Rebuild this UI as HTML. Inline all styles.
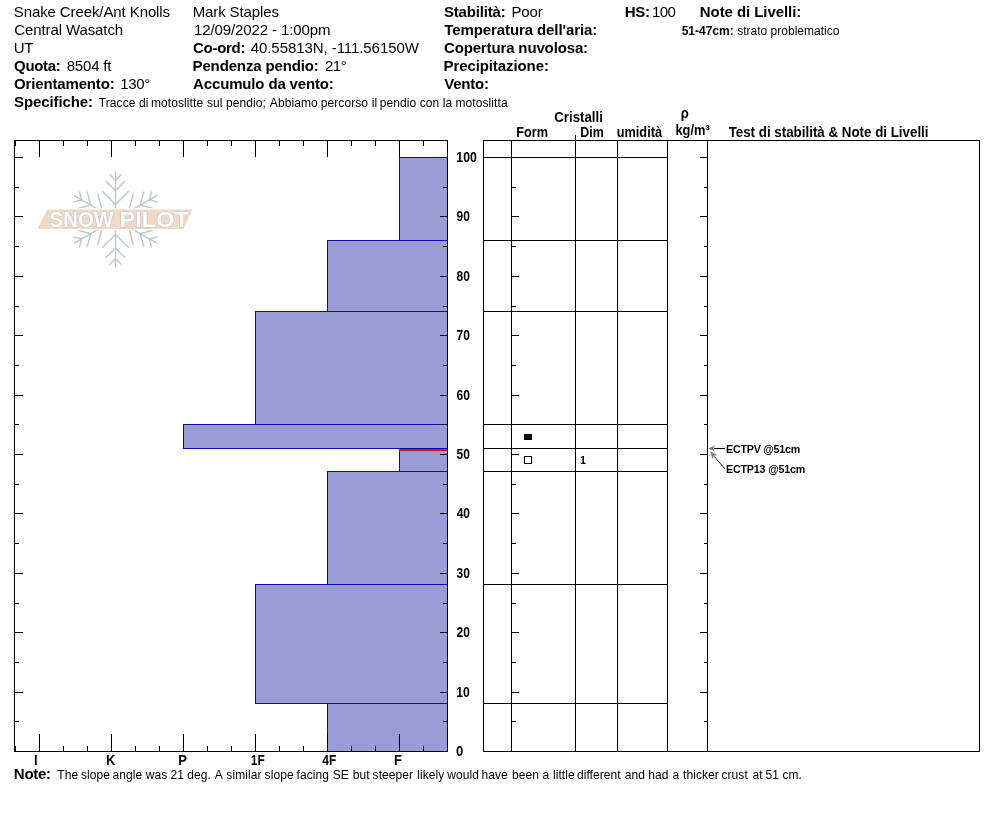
<!DOCTYPE html>
<html lang="it"><head><meta charset="utf-8"><title>Snow Pilot - Snake Creek/Ant Knolls</title>
<style>html,body{margin:0;padding:0;background:#fff}body{width:994px;height:840px;overflow:hidden}svg{display:block}text{font-family:"Liberation Sans",Arial,Helvetica,sans-serif;fill:#000}.b{font-weight:bold}.f11{font-size:15px}.f10{font-size:15px}.f9{font-size:12px}.f8{font-size:10.67px}.ln{stroke:#000;stroke-width:1;shape-rendering:crispEdges;fill:none}</style></head><body>
<div style="will-change:transform;width:994px;height:840px">
<svg width="994" height="840" viewBox="0 0 994 840">
<rect width="994" height="840" fill="#fff"/>
<text y="106.5" class="f9" style="letter-spacing:0.08px;white-space:pre"><tspan x="98.77">Tracce di </tspan><tspan x="151.04">motoslitte </tspan><tspan x="206.97">sul </tspan><tspan x="226.06">pendio; </tspan><tspan x="269.82">Abbiamo </tspan><tspan x="320.76">percorso </tspan><tspan x="371.8">il </tspan><tspan x="379.86">pendio </tspan><tspan x="419.74">con </tspan><tspan x="442.87">la </tspan><tspan x="455.54">motoslitta</tspan></text>
<text y="778.5" class="f9" style="letter-spacing:0.08px;white-space:pre"><tspan x="57.37">The </tspan><tspan x="80.97">slope </tspan><tspan x="112.58">angle </tspan><tspan x="145.8">was </tspan><tspan x="170.55">21 </tspan><tspan x="187.22">deg. </tspan><tspan x="214.72">A </tspan><tspan x="226.37">similar </tspan><tspan x="264.57">slope </tspan><tspan x="296.5">facing </tspan><tspan x="332.64">SE </tspan><tspan x="352.66">but </tspan><tspan x="372.57">steeper </tspan><tspan x="417.17">likely </tspan><tspan x="447.3">would </tspan><tspan x="481.43">have </tspan><tspan x="511.96">been </tspan><tspan x="542.38">a </tspan><tspan x="552.97">little </tspan><tspan x="576.92">different </tspan><tspan x="624.68">and </tspan><tspan x="648.33">had </tspan><tspan x="672.38">a </tspan><tspan x="683.0">thicker </tspan><tspan x="721.44">crust </tspan><tspan x="752.58">at </tspan><tspan x="765.5">51 </tspan><tspan x="782.44">cm.</tspan></text>
<text x="13.74" y="16.5" class="f11" style="letter-spacing:-0.098px">Snake Creek/Ant Knolls</text>
<text x="14.25" y="34.5" class="f11" style="letter-spacing:-0.103px">Central Wasatch</text>
<text x="13.84" y="52.5" class="f11" style="letter-spacing:-0.5px">UT</text>
<text x="14.04" y="70.5" class="f11 b" style="letter-spacing:-0.303px">Quota:</text>
<text x="66.71" y="70.5" class="f11" style="letter-spacing:-0.181px">8504 ft</text>
<text x="14.04" y="88.5" class="f11 b" style="letter-spacing:-0.154px">Orientamento:</text>
<text x="120.2" y="88.5" class="f11" style="letter-spacing:-0.3px">130°</text>
<text x="14.05" y="106.5" class="f11 b" style="letter-spacing:-0.106px">Specifiche:</text>
<text x="192.71" y="16.5" class="f11" style="letter-spacing:-0.122px">Mark Staples</text>
<text x="193.98" y="34.5" class="f11" style="letter-spacing:-0.11px">12/09/2022 - 1:00pm</text>
<text x="193.04" y="52.5" class="f11 b" style="letter-spacing:-0.296px">Co-ord:</text>
<text x="250.71" y="52.5" class="f11" style="letter-spacing:-0.067px">40.55813N, -111.56150W</text>
<text x="192.57" y="70.5" class="f11 b" style="letter-spacing:-0.144px">Pendenza pendio:</text>
<text x="324.96" y="70.5" class="f11" style="letter-spacing:-0.497px">21°</text>
<text x="193.1" y="88.5" class="f11 b" style="letter-spacing:-0.155px">Accumulo da vento:</text>
<text x="443.95" y="16.5" class="f11 b" style="letter-spacing:-0.17px">Stabilità:</text>
<text x="511.4" y="16.5" class="f11" style="letter-spacing:-0.148px">Poor</text>
<text x="444.35" y="34.5" class="f11 b" style="letter-spacing:-0.103px">Temperatura dell'aria:</text>
<text x="443.94" y="52.5" class="f11 b" style="letter-spacing:-0.141px">Copertura nuvolosa:</text>
<text x="443.47" y="70.5" class="f11 b" style="letter-spacing:-0.091px">Precipitazione:</text>
<text x="444.24" y="88.5" class="f11 b" style="letter-spacing:-0.208px">Vento:</text>
<text x="624.77" y="16.5" class="f11 b" style="letter-spacing:-0.286px">HS:</text>
<text x="652.0" y="16.5" class="f11" style="letter-spacing:-0.6px">100</text>
<text x="699.77" y="16.5" class="f11 b" style="letter-spacing:-0.065px">Note di Livelli:</text>
<text x="681.65" y="34.6" class="f9 b" style="letter-spacing:-0.007px">51-47cm:</text>
<text x="737.17" y="34.6" class="f9" style="letter-spacing:0.014px">strato problematico</text>
<text x="725.99" y="453" class="f8 b" style="letter-spacing:-0.187px">ECTPV @51cm</text>
<text x="725.99" y="473" class="f8 b" style="letter-spacing:-0.15px">ECTP13 @51cm</text>
<text x="580.02" y="463.8" class="f8 b">1</text>
<text x="13.87" y="778.5" class="f11 b" style="letter-spacing:-0.302px">Note:</text>
<text x="554.27" y="121.7" class="f10 b" textLength="48.58" lengthAdjust="spacingAndGlyphs">Cristalli</text>
<text x="516.3" y="137" class="f10 b" textLength="31.71" lengthAdjust="spacingAndGlyphs">Form</text>
<text x="580.32" y="137" class="f10 b" textLength="23.44" lengthAdjust="spacingAndGlyphs">Dim</text>
<text x="616.74" y="137" class="f10 b" textLength="45.27" lengthAdjust="spacingAndGlyphs">umidità</text>
<text x="680.65" y="118" class="f10 b" textLength="8.07" lengthAdjust="spacingAndGlyphs">ρ</text>
<text x="675.46" y="134.6" class="f10 b" textLength="34.22" lengthAdjust="spacingAndGlyphs">kg/m³</text>
<text x="728.63" y="137" class="f10 b" textLength="199.9" lengthAdjust="spacingAndGlyphs">Test di stabilità &amp; Note di Livelli</text>
<text x="34.03" y="764.5" class="f10 b" textLength="3.63" lengthAdjust="spacingAndGlyphs">I</text>
<text x="105.94" y="764.5" class="f10 b" textLength="9.43" lengthAdjust="spacingAndGlyphs">K</text>
<text x="178.31" y="764.5" class="f10 b" textLength="8.71" lengthAdjust="spacingAndGlyphs">P</text>
<text x="250.72" y="764.5" class="f10 b" textLength="14.01" lengthAdjust="spacingAndGlyphs">1F</text>
<text x="322.34" y="764.5" class="f10 b" textLength="14.01" lengthAdjust="spacingAndGlyphs">4F</text>
<text x="394.04" y="764.5" class="f10 b" textLength="7.98" lengthAdjust="spacingAndGlyphs">F</text>
<text x="456.05" y="756" class="f10 b" textLength="7.26" lengthAdjust="spacingAndGlyphs">0</text>
<text x="456.37" y="697" class="f10 b" textLength="13.5" lengthAdjust="spacingAndGlyphs">10</text>
<text x="456.57" y="637" class="f10 b" textLength="13.35" lengthAdjust="spacingAndGlyphs">20</text>
<text x="456.55" y="578" class="f10 b" textLength="13.35" lengthAdjust="spacingAndGlyphs">30</text>
<text x="456.67" y="518" class="f10 b" textLength="13.35" lengthAdjust="spacingAndGlyphs">40</text>
<text x="456.51" y="459" class="f10 b" textLength="13.36" lengthAdjust="spacingAndGlyphs">50</text>
<text x="456.55" y="400" class="f10 b" textLength="13.35" lengthAdjust="spacingAndGlyphs">60</text>
<text x="456.52" y="340" class="f10 b" textLength="13.35" lengthAdjust="spacingAndGlyphs">70</text>
<text x="456.57" y="281" class="f10 b" textLength="13.35" lengthAdjust="spacingAndGlyphs">80</text>
<text x="456.55" y="221" class="f10 b" textLength="13.35" lengthAdjust="spacingAndGlyphs">90</text>
<text x="456.37" y="162" class="f10 b" textLength="20.49" lengthAdjust="spacingAndGlyphs">100</text>
<g stroke="#bcc9d1" stroke-width="1.45" stroke-linecap="round" fill="none"><path d="M115.5 219.4L115.5 171.8"/><path d="M115.5 180.3L121.2 174.6"/><path d="M115.5 180.3L109.8 174.6"/><path d="M115.5 190.8L124.8 181.5"/><path d="M115.5 190.8L106.2 181.5"/><path d="M115.5 204.4L128.4 191.5"/><path d="M115.5 204.4L102.6 191.5"/><path d="M115.5 219.4L74.3 195.6"/><path d="M81.6 199.9L79.5 192.0"/><path d="M81.6 199.9L73.8 201.9"/><path d="M90.7 205.1L87.3 192.3"/><path d="M90.7 205.1L78.0 208.5"/><path d="M102.5 211.9L97.8 194.3"/><path d="M102.5 211.9L84.9 216.6"/><path d="M115.5 219.4L74.3 243.2"/><path d="M81.6 239.0L73.8 236.9"/><path d="M81.6 239.0L79.5 246.8"/><path d="M90.7 233.7L78.0 230.3"/><path d="M90.7 233.7L87.3 246.5"/><path d="M102.5 226.9L84.9 222.2"/><path d="M102.5 226.9L97.8 244.5"/><path d="M115.5 219.4L115.5 267.0"/><path d="M115.5 258.5L109.8 264.2"/><path d="M115.5 258.5L121.2 264.2"/><path d="M115.5 248.0L106.2 257.3"/><path d="M115.5 248.0L124.8 257.3"/><path d="M115.5 234.4L102.6 247.3"/><path d="M115.5 234.4L128.4 247.3"/><path d="M115.5 219.4L156.7 243.2"/><path d="M149.4 239.0L151.5 246.8"/><path d="M149.4 239.0L157.2 236.9"/><path d="M140.3 233.7L143.7 246.5"/><path d="M140.3 233.7L153.0 230.3"/><path d="M128.5 226.9L133.2 244.5"/><path d="M128.5 226.9L146.1 222.2"/><path d="M115.5 219.4L156.7 195.6"/><path d="M149.4 199.8L157.2 201.9"/><path d="M149.4 199.8L151.5 192.0"/><path d="M140.3 205.1L153.0 208.5"/><path d="M140.3 205.1L143.7 192.3"/><path d="M128.5 211.9L146.1 216.6"/><path d="M128.5 211.9L133.2 194.3"/></g><polygon points="47.3,209.6 192.6,209.6 183.6,229 37.6,229" fill="#f1d9c5" stroke="#fff" stroke-width="2.6" paint-order="stroke"/><text y="227.3" style="font-size:21.6px;font-weight:bold;fill:#fff;stroke:#c2c5cc;stroke-width:1.2;paint-order:stroke"><tspan x="49.6" textLength="63.6" lengthAdjust="spacingAndGlyphs">SNOW</tspan> <tspan x="119.6" textLength="69.2" lengthAdjust="spacingAndGlyphs">PILOT</tspan></text>
<rect x="399.5" y="157.5" width="48" height="83" fill="#9b9bd7" stroke="#0a0aaa" stroke-width="1" shape-rendering="crispEdges"/>
<rect x="327.5" y="240.5" width="120" height="71" fill="#9b9bd7" stroke="#0a0aaa" stroke-width="1" shape-rendering="crispEdges"/>
<rect x="255.5" y="311.5" width="192" height="113" fill="#9b9bd7" stroke="#0a0aaa" stroke-width="1" shape-rendering="crispEdges"/>
<rect x="183.5" y="424.5" width="264" height="24" fill="#9b9bd7" stroke="#0a0aaa" stroke-width="1" shape-rendering="crispEdges"/>
<rect x="399.5" y="448.5" width="48" height="23" fill="#9b9bd7" stroke="#0a0aaa" stroke-width="1" shape-rendering="crispEdges"/>
<rect x="327.5" y="471.5" width="120" height="113" fill="#9b9bd7" stroke="#0a0aaa" stroke-width="1" shape-rendering="crispEdges"/>
<rect x="255.5" y="584.5" width="192" height="119" fill="#9b9bd7" stroke="#0a0aaa" stroke-width="1" shape-rendering="crispEdges"/>
<rect x="327.5" y="703.5" width="120" height="48" fill="#9b9bd7" stroke="#0a0aaa" stroke-width="1" shape-rendering="crispEdges"/>
<rect x="399" y="449" width="48" height="2" fill="#bd2222" shape-rendering="crispEdges"/>
<rect x="14.5" y="140.5" width="433" height="611" class="ln"/>
<path class="ln" d="M15.5 140v6M15.5 752v-6M39.5 140v17M39.5 752v-18M63.5 140v6M63.5 752v-6M87.5 140v6M87.5 752v-6M111.5 140v17M111.5 752v-18M135.5 140v6M135.5 752v-6M159.5 140v6M159.5 752v-6M183.5 140v17M183.5 752v-18M207.5 140v6M207.5 752v-6M231.5 140v6M231.5 752v-6M255.5 140v17M255.5 752v-18M279.5 140v6M279.5 752v-6M303.5 140v6M303.5 752v-6M327.5 140v17M327.5 752v-18M351.5 140v6M351.5 752v-6M375.5 140v6M375.5 752v-6M399.5 140v17M399.5 752v-18M423.5 140v6M423.5 752v-6M14 751.5h9M448 751.5h-8M14 721.5h5M448 721.5h-5M14 692.5h9M448 692.5h-8M14 662.5h5M448 662.5h-5M14 632.5h9M448 632.5h-8M14 603.5h5M448 603.5h-5M14 573.5h9M448 573.5h-8M14 543.5h5M448 543.5h-5M14 513.5h9M448 513.5h-8M14 484.5h5M448 484.5h-5M14 454.5h9M448 454.5h-8M14 424.5h5M448 424.5h-5M14 395.5h9M448 395.5h-8M14 365.5h5M448 365.5h-5M14 335.5h9M448 335.5h-8M14 306.5h5M448 306.5h-5M14 276.5h9M448 276.5h-8M14 246.5h5M448 246.5h-5M14 216.5h9M448 216.5h-8M14 187.5h5M448 187.5h-5M14 157.5h9M448 157.5h-8"/>
<rect x="483.5" y="140.5" width="496" height="611" class="ln"/>
<path class="ln" d="M511.5 140V751M575.5 135V751M617.5 140V751M667.5 140V751M707.5 140V751M483 157.5H667M483 240.5H667M483 311.5H667M483 424.5H667M483 448.5H667M483 471.5H667M483 584.5H667M483 703.5H667M511 751.5h8M708 751.5h-8M511 721.5h5M708 721.5h-4M511 692.5h8M708 692.5h-8M511 662.5h5M708 662.5h-4M511 632.5h8M708 632.5h-8M511 603.5h5M708 603.5h-4M511 573.5h8M708 573.5h-8M511 543.5h5M708 543.5h-4M511 513.5h8M708 513.5h-8M511 484.5h5M708 484.5h-4M511 454.5h8M708 454.5h-8M511 424.5h5M708 424.5h-4M511 395.5h8M708 395.5h-8M511 365.5h5M708 365.5h-4M511 335.5h8M708 335.5h-8M511 306.5h5M708 306.5h-4M511 276.5h8M708 276.5h-8M511 246.5h5M708 246.5h-4M511 216.5h8M708 216.5h-8M511 187.5h5M708 187.5h-4M511 157.5h8M708 157.5h-8"/>
<rect x="524" y="434" width="8" height="6" fill="#000" shape-rendering="crispEdges"/>
<rect x="524.5" y="456.5" width="7" height="7" class="ln"/>
<path d="M714 448.5H725" class="ln"/>
<path d="M714.2 456.4L724.9 468.8" stroke="#000" stroke-width="0.9" fill="none"/>
<path d="M708 448.5l7 -3.1l-1.6 3.1l1.6 3.1z" fill="#7d7d7d"/>
<g transform="translate(710.1,451.3) rotate(49.4)"><path d="M0 0l7.4 -3.1l-1.6 3.1l1.6 3.1z" fill="#7d7d7d"/></g>
</svg></div></body></html>
